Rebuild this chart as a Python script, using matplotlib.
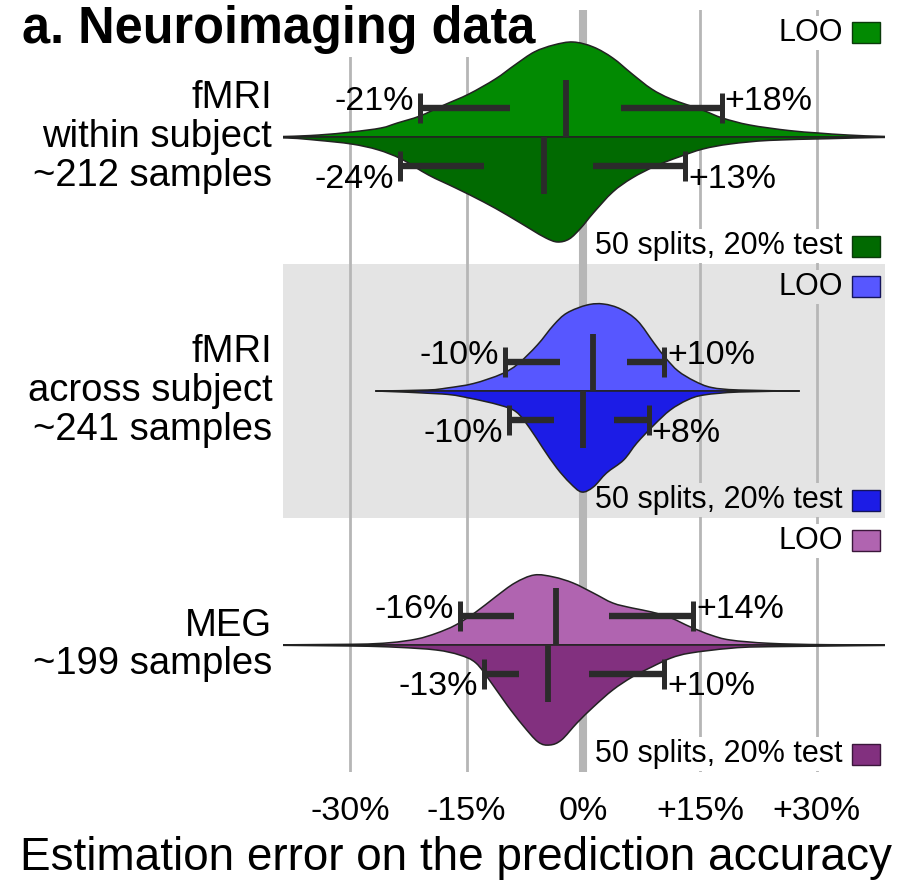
import matplotlib
matplotlib.use("Agg")
import matplotlib.pyplot as plt
from matplotlib.patches import Rectangle, PathPatch
from matplotlib.path import Path
import numpy as np

plt.rcParams['font.family'] = ['Liberation Sans', 'DejaVu Sans']

# ---------------- data ----------------
groups = ["fMRI\nwithin subject\n~212 samples",
          "fMRI\nacross subject\n~241 samples",
          "MEG\n~199 samples"]
series_names = ["LOO", "50 splits, 20% test"]

# violin density profiles (x = estimation error in %, d = density, arbitrary units)
green_loo_x = [-45, -38.5, -34, -29.8, -26, -23.9, -21, -17.9, -14.7, -11.3, -8.8, -6.3, -3.8, -1.3,
               1.3, 3.8, 6.3, 8.8, 11.3, 15.3, 17.9, 21.4, 26.4, 30.2, 34, 39, 45]
green_loo_d = [0, 0.5, 2, 5, 9, 14, 21, 32, 43, 58, 72, 85, 92, 95,
               90, 79, 63, 48, 38, 27, 19, 12, 6.5, 4, 2, 0.5, 0]
green_split_x = [-45, -38, -34, -29.8, -26.4, -23.4, -19.9, -16.4, -12.8, -9.8, -6.8, -4.8, -3.3, -1.8,
                 -0.3, 1.3, 3.8, 6.3, 9.3, 12.3, 15.4, 18.9, 23.9, 31.5, 38, 45]
green_split_d = [0, 1, 3.4, 7, 12.8, 22, 38, 51, 65, 78, 92, 101, 105, 102,
                 91, 76, 55, 41, 29, 20, 12, 7, 3.4, 1.7, 0.5, 0]
blue_loo_x = [-26.7, -20, -17.5, -14.1, -10.5, -8.4, -5.9, -3.8, -2.1, 0.5, 2.6, 4.8, 7.0, 9.1,
              10.6, 12.2, 14.3, 16.5, 20, 27.8]
blue_loo_d = [0, 1, 3, 7.5, 17, 27, 46, 66, 78, 86, 87, 82, 70, 48,
              33, 20, 10, 3.5, 1, 0]
blue_split_x = [-26.7, -18.1, -14.7, -10.8, -8.6, -6.9, -5.2, -3.4, -1.7, -0.2, 1.3, 3.0, 5.2, 6.9,
                9.1, 11.2, 13.4, 15.5, 20, 27.8]
blue_split_d = [0, 3, 7, 14, 21, 37, 57, 77, 92, 101, 96, 82, 69, 52,
                34, 19, 9, 4, 1, 0]
purple_loo_x = [-45, -29.8, -24.9, -21.4, -18.9, -16.4, -13.8, -11.3, -8.8, -6.3, -3.8, -1.3, 1.3, 3.8,
                6.3, 8.8, 11.3, 13.8, 16.4, 18.9, 23.9, 31.5, 45]
purple_loo_d = [0, 0.7, 2.3, 6, 11.7, 20, 33, 48, 62, 70, 68, 62, 52, 42,
                37, 33, 27, 18, 10, 5, 1.7, 0.3, 0]
purple_split_x = [-45, -29.8, -23.9, -18.9, -15.9, -13.8, -11.8, -9.8, -7.8, -5.8, -4.3, -2.8, -0.8, 1.3,
                  3.8, 6.3, 8.8, 11.3, 13.8, 18.9, 23.9, 45]
purple_split_d = [0, 1, 2.3, 5, 10, 18, 38, 60, 80, 97, 100, 95, 78, 62,
                  45, 32, 22, 13, 8, 3.3, 1.7, 0]

# summary statistics (in %)
loo_p5 = [-21.0, -10.1, -15.9]
loo_q1 = [-9.4, -3.0, -8.9]
loo_med = [-2.2, 1.2, -3.5]
loo_q3 = [4.8, 5.6, 3.3]
loo_p95 = [17.8, 10.4, 14.1]
split_p5 = [-23.6, -9.6, -12.7]
split_q1 = [-12.7, -3.7, -8.2]
split_med = [-5.1, 0.0, -4.5]
split_q3 = [1.2, 4.0, 0.8]
split_p95 = [13.1, 8.4, 10.4]

xticks = [-30, -15, 0, 15, 30]
xticklabels = ["-30%", "-15%", "0%", "+15%", "+30%"]

# ---------------- style ----------------
loo_colors = ["#028a02", "#5757ff", "#b064b0"]
split_colors = ["#016a01", "#1c1ce6", "#82307f"]
edge_dark = ["#0b3a0b", "#14145a", "#3a163a"]
band_color = "#e4e4e4"
grid_color = "#b6b6b6"
wcol = "#2b2b2b"
PX = 254.0  # pixels per y unit


def smooth_half(x, d, base, sign):
    """Closed path: smooth (Catmull-Rom drawn as Bezier) edge through the read points, back along the base."""
    x = np.asarray(x, float)
    y = np.asarray(d, float) / PX
    n = len(x)
    verts = [(x[0], base + sign * y[0])]
    codes = [Path.MOVETO]
    for k in range(n - 1):
        km = max(k - 1, 0)
        kp = min(k + 2, n - 1)
        c1x = x[k] + (x[k + 1] - x[km]) / 6.0
        c1y = max(y[k] + (y[k + 1] - y[km]) / 6.0, 0)
        c2x = x[k + 1] - (x[kp] - x[k]) / 6.0
        c2y = max(y[k + 1] - (y[kp] - y[k]) / 6.0, 0)
        verts += [(c1x, base + sign * c1y), (c2x, base + sign * c2y), (x[k + 1], base + sign * y[k + 1])]
        codes += [Path.CURVE4] * 3
    verts += [(x[-1], base), (x[0], base), (x[0], base)]
    codes += [Path.LINETO, Path.LINETO, Path.CLOSEPOLY]
    return Path(verts, codes)


fig = plt.figure(figsize=(9.14, 8.85), dpi=100)
ax = fig.add_axes([283 / 914, 1 - 772 / 885, 602 / 914, 762 / 885])
ax.set_xlim(-38.6, 38.8)
ax.set_ylim(2.5, -0.5)
for s in ax.spines.values():
    s.set_visible(False)
ax.set_yticks([])
ax.set_xticks(xticks)
ax.set_xticklabels(xticklabels, fontsize=24.5)
ax.tick_params(axis='x', length=0, pad=17)

ax.axhspan(0.5, 1.5, color=band_color, zorder=0, lw=0)
for t in xticks:
    ax.axvline(t, color=grid_color, lw=5.8 if t == 0 else 2, zorder=0.5)

profiles = [((green_loo_x, green_loo_d), (green_split_x, green_split_d)),
            ((blue_loo_x, blue_loo_d), (blue_split_x, blue_split_d)),
            ((purple_loo_x, purple_loo_d), (purple_split_x, purple_split_d))]

stats_loo = list(zip(loo_p5, loo_q1, loo_med, loo_q3, loo_p95))
stats_split = list(zip(split_p5, split_q1, split_med, split_q3, split_p95))

for i, ((lx, ld), (sx, sd)) in enumerate(profiles):
    ax.add_patch(PathPatch(smooth_half(lx, ld, i, -1), facecolor=loo_colors[i],
                           edgecolor="#222222", lw=1.1, zorder=2))
    ax.add_patch(PathPatch(smooth_half(sx, sd, i, 1), facecolor=split_colors[i],
                           edgecolor="#222222", lw=1.1, zorder=2))

    for sign, st in ((-1, stats_loo[i]), (1, stats_split[i])):
        p5, q1, med, q3, p95 = st
        yb = i + sign * 29 / PX
        kw = dict(color=wcol, lw=4.6, solid_capstyle='butt', zorder=3)
        ax.plot([p5, q1], [yb, yb], **kw)
        ax.plot([q3, p95], [yb, yb], **kw)
        ax.plot([p5, p5], [yb - 15 / PX, yb + 15 / PX], color=wcol, lw=3.6, solid_capstyle='butt', zorder=3)
        ax.plot([p95, p95], [yb - 15 / PX, yb + 15 / PX], color=wcol, lw=3.6, solid_capstyle='butt', zorder=3)
        ax.plot([med, med], [i, i + sign * 57 / PX], color=wcol, lw=4.2, solid_capstyle='butt', zorder=3)
        ty = yb + (-6 / PX if sign < 0 else 13 / PX)
        ax.annotate(f"{p5:+.0f}%", xy=(p5, ty), xytext=(-6, 0), textcoords='offset pixels',
                    ha='right', va='center', fontsize=24.5, zorder=4)
        ax.annotate(f"{p95:+.0f}%", xy=(p95, ty), xytext=(3, 0), textcoords='offset pixels',
                    ha='left', va='center', fontsize=24.5, zorder=4)

    # legend entries
    bg = band_color if i == 1 else "white"
    ytr = ax.get_yaxis_transform()
    for off, col, name in ((-0.41, loo_colors[i], series_names[0]),
                           (0.43, split_colors[i], series_names[1])):
        ax.text(0.930, i + off, name, transform=ytr, ha='right', va='center', fontsize=22,
                zorder=1.5, bbox=dict(facecolor=bg, edgecolor='none', pad=1.5))
        ax.add_patch(Rectangle((0.945, i + off - 10.5 / PX), 0.047, 21 / PX, transform=ytr,
                               facecolor=col, edgecolor=edge_dark[i], lw=1, zorder=4, clip_on=False))

    ax.text(-0.018, i, groups[i], transform=ytr, ha='right', va='center', fontsize=27.5,
            linespacing=1.1)

ax.text(22 / 914, 1 - 5 / 885, "a. Neuroimaging data", transform=fig.transFigure,
        ha='left', va='top', fontsize=36.4, fontweight='bold', zorder=1.5, clip_on=False,
        bbox=dict(facecolor='white', edgecolor='none', pad=2))

fig.text(456 / 914, 1 - 858 / 885, "Estimation error on the prediction accuracy",
         ha='center', va='center', fontsize=33)

fig.savefig("out.png", dpi=100)
